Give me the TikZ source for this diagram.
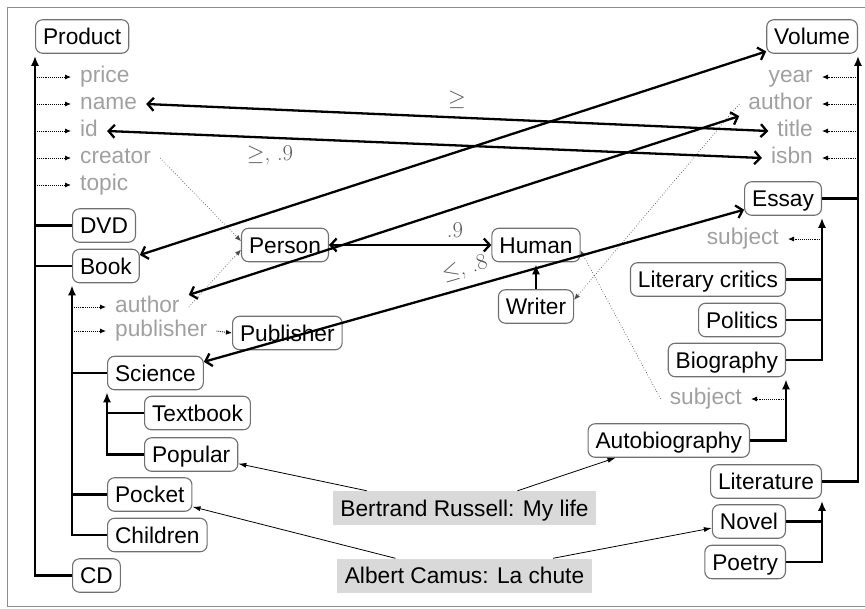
\RequirePackage{fix-cm}
\documentclass[tikz,border=0pt]{standalone}
\usepackage[no-math]{fontspec}
\setmainfont{Liberation Sans}
\newfontfamily\lmrfont{Latin Modern Roman}
\usetikzlibrary{arrows.meta,calc}
\definecolor{boxline}{HTML}{707070}
\definecolor{attrgray}{HTML}{A0A0A0}
\definecolor{exfill}{HTML}{D9D9D9}
\tikzset{
  box/.style={draw=boxline, line width=1.1pt, rounded corners=7pt, text=black,
    inner xsep=7.5pt, inner ysep=0pt, text height=16.3pt, text depth=0pt, minimum height=33.5pt},
  exbox/.style={fill=exfill, text=black, inner xsep=7.5pt, inner ysep=0pt,
    text height=16.3pt, text depth=0pt, minimum height=34pt},
  attr/.style={text=attrgray, inner xsep=9pt, inner ysep=6pt, text height=11.8pt, text depth=0pt},
  tree/.style={line width=2.4pt, -{Latex[length=10pt,width=8pt]}, shorten >=2pt},
  treeline/.style={line width=2.4pt},
  link/.style={line width=2.3pt, {Straight Barb[length=6pt,width=13pt,line width=2.3pt]}-{Straight Barb[length=6pt,width=13pt,line width=2.3pt]}},
  attrarrow/.style={line width=0.9pt, densely dotted, -{Latex[length=6pt,width=5pt]}},
  dotline/.style={line width=0.7pt, dotted, black!70, -{Latex[length=6pt,width=5pt]}},
  thinarrow/.style={line width=0.8pt, -{Latex[length=8pt,width=5pt]}},
  lbl/.style={text=black!65, inner sep=0pt, font=\fontsize{22.7}{27}\selectfont\lmrfont},
}
\begin{document}
\begin{tikzpicture}[x=1pt,y=-1pt,font=\fontsize{22.7}{27}\selectfont]
\useasboundingbox (0,0) rectangle (865,608);
\draw[black!45, line width=1pt] (7,7) rectangle (866,606);

% left hierarchy
\node[box, anchor=west] (Product) at (35,36.5) {Product};
\node[box, anchor=west] (DVD) at (72,225.5) {DVD};
\node[box, anchor=west] (Book) at (72,266) {Book};
\node[box, anchor=west] (Science) at (107,373) {Science};
\node[box, anchor=west] (Textbook) at (144,413) {Textbook};
\node[box, anchor=west] (Popular) at (144,454.5) {Popular};
\node[box, anchor=west] (Pocket) at (107,494.5) {Pocket};
\node[box, anchor=west] (Children) at (107,535) {Children};
\node[box, anchor=west] (CD) at (72,575.5) {CD};

% middle
\node[box] (Person) at (285,245) {Person};
\node[box] (Human) at (536,245) {Human};
\node[box] (Writer) at (536,306.5) {Writer};
\node[box, anchor=west] (Publisher) at (232,333) {Publisher};

% right hierarchy
\node[box, anchor=east] (Volume) at (858,36.5) {Volume};
\node[box, anchor=east] (Essay) at (822,198.5) {Essay};
\node[box, anchor=east] (Critics) at (786,279.5) {Literary critics};
\node[box, anchor=east] (Politics) at (786,320) {Politics};
\node[box, anchor=east] (Biography) at (786,360) {Biography};
\node[box, anchor=east] (Autobio) at (750,440.5) {Autobiography};
\node[box, anchor=east] (Literature) at (822,481.5) {Literature};
\node[box, anchor=east] (Novel) at (786,521.5) {Novel};
\node[box, anchor=east] (Poetry) at (786,562) {Poetry};

% examples
\node[exbox] (Russell) at (464.5,508) {Bertrand Russell: My life};
\node[exbox] (Camus) at (464.5,575.5) {Albert Camus: La chute};

% attributes left
\node[attr, anchor=west] (price) at (71,77) {price};
\node[attr, anchor=west] (name) at (71,104) {name};
\node[attr, anchor=west] (id) at (71,131) {id};
\node[attr, anchor=west] (creator) at (71,158) {creator};
\node[attr, anchor=west] (topic) at (71,185) {topic};
\node[attr, anchor=west] (bauthor) at (106,307) {author};
\node[attr, anchor=west] (bpublisher) at (106,331) {publisher};

% attributes right
\node[attr, anchor=east] (year) at (822,77) {year};
\node[attr, anchor=east] (vauthor) at (822,104) {author};
\node[attr, anchor=east] (title) at (822,131) {title};
\node[attr, anchor=east] (isbn) at (822,158) {isbn};
\node[attr, anchor=east] (esubject) at (788,239) {subject};
\node[attr, anchor=east] (lsubject) at (751,399) {subject};

% trees
\draw[tree] (CD.west) -| (Product.south west);
\draw[treeline] (DVD.west) -- (DVD.west -| Product.south west);
\draw[treeline] (Book.west) -- (Book.west -| Product.south west);
\draw[tree] (Children.west) -| (Book.south west);
\draw[treeline] (Science.west) -- (Science.west -| Book.south west);
\draw[treeline] (Pocket.west) -- (Pocket.west -| Book.south west);
\draw[tree] (Popular.west) -| (Science.south west);
\draw[treeline] (Textbook.west) -- (Textbook.west -| Science.south west);

\draw[tree] (Literature.east) -| (Volume.south east);
\draw[treeline] (Essay.east) -- (Essay.east -| Volume.south east);
\draw[tree] (Biography.east) -| (Essay.south east);
\draw[treeline] (Critics.east) -- (Critics.east -| Essay.south east);
\draw[treeline] (Politics.east) -- (Politics.east -| Essay.south east);
\draw[tree] (Autobio.east) -| (Biography.south east);
\draw[tree] (Poetry.east) -| (Literature.south east);
\draw[treeline] (Novel.east) -- (Novel.east -| Literature.south east);
\draw[tree] (Writer.north) -- (Human.south);

% attribute arrows
\foreach \a in {price,name,id,creator,topic}
  \draw[attrarrow] (\a.west -| Product.south west) -- (\a.west);
\foreach \a in {bauthor,bpublisher}
  \draw[attrarrow] (\a.west -| Book.south west) -- (\a.west);
\foreach \a in {year,vauthor,title,isbn}
  \draw[attrarrow] (\a.east -| Volume.south east) -- (\a.east);
\draw[attrarrow] (esubject.east -| Essay.south east) -- (esubject.east);
\draw[attrarrow] (lsubject.east -| Biography.south east) -- (lsubject.east);
\draw[attrarrow] (bpublisher.east) -- (Publisher.west);

% dotted references
\draw[dotline] (creator.east) -- (Person.175);
\draw[dotline] (bauthor.east) -- (Person.186);
\draw[dotline] (vauthor.west) -- (Writer.10);
\draw[dotline] (lsubject.west) -- (Human.-7);

% mappings
\draw[link] (name.east) -- (title.west);
\draw[link] (id.east) -- (isbn.west);
\draw[link] (Book.18) -- (Volume.198);
\draw[link] (bauthor.north east) -- (vauthor.south west);
\draw[link] (Science.13) -- (Essay.196);
\draw[link] (Person.east) -- (Human.west);

\node[lbl] (l1) at (457,100) {$\geq$};
\node[lbl] (l2) at (270,155) {$\geq$, .9};
\node[lbl] (l3) at (455,230) {.9};
\node[lbl, rotate=16] (l4) at (465,269) {$\leq$, .8};

% instances
\draw[thinarrow] (Russell.170) -- (Popular.-11);
\draw[thinarrow] (Russell.18) -- (Autobio.198);
\draw[thinarrow] (Camus.166) -- (Pocket.-16);
\draw[thinarrow] (Camus.11) -- (Novel.190);
\end{tikzpicture}
\end{document}
